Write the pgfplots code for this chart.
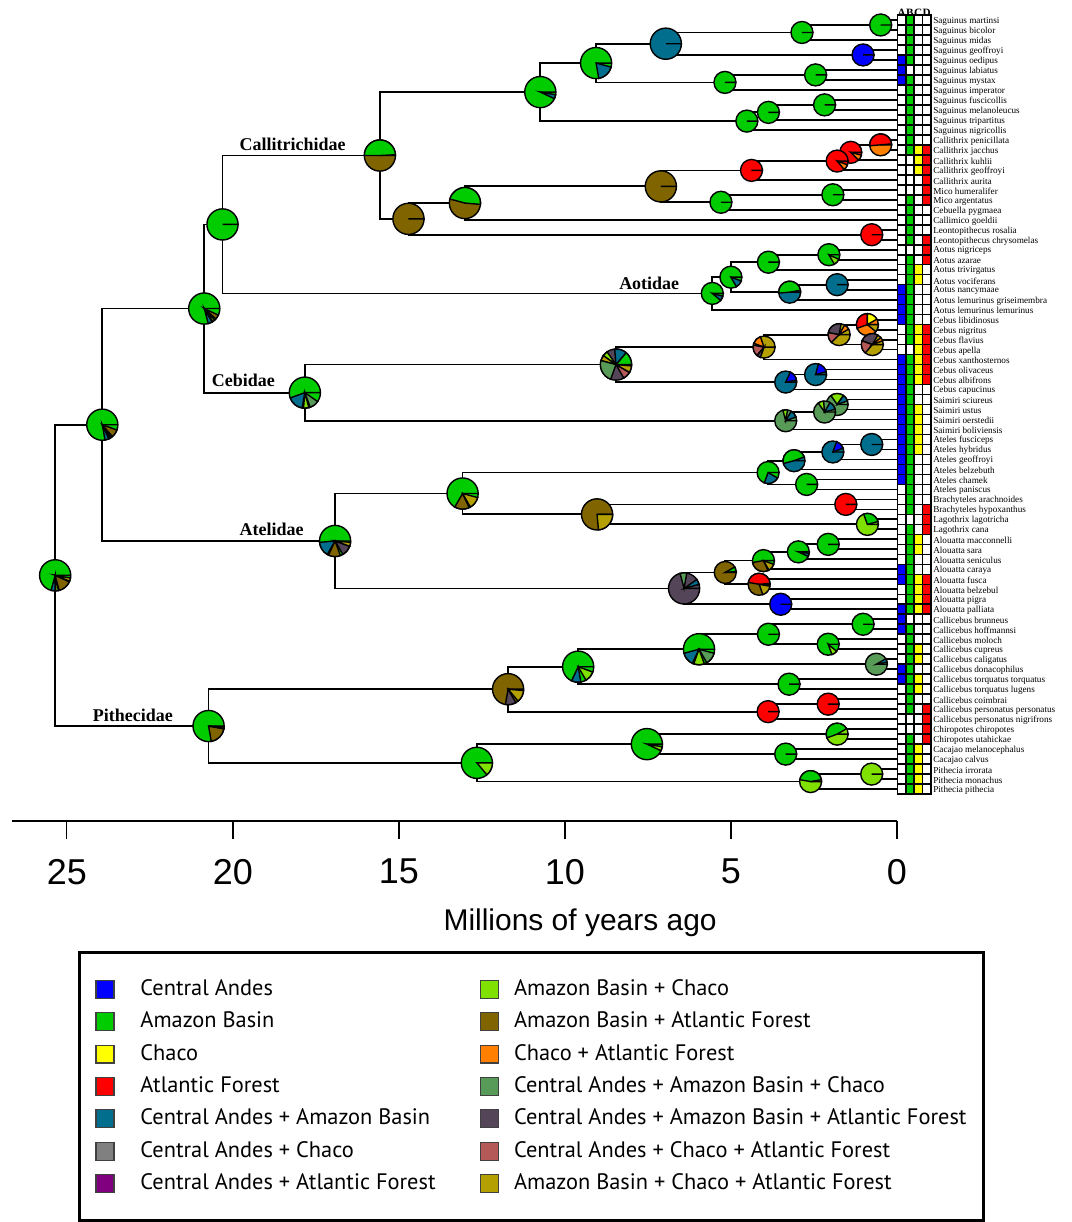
\documentclass[border=0pt]{standalone}
\usepackage{fontspec}
\setmainfont{Liberation Serif}
\newfontfamily\arialf{Liberation Sans}
\newfontfamily\ptsans{PT Sans}
\usepackage{pgfplots}
\usepackage{pgfplotstable}
\pgfplotsset{compat=1.18}

\definecolor{cA}{RGB}{0,0,255}
\definecolor{cB}{RGB}{0,204,0}
\definecolor{cC}{RGB}{255,255,0}
\definecolor{cD}{RGB}{255,0,0}
\definecolor{cAB}{RGB}{0,110,140}
\definecolor{cAC}{RGB}{128,128,128}
\definecolor{cAD}{RGB}{128,0,128}
\definecolor{cBC}{RGB}{128,224,0}
\definecolor{cBD}{RGB}{128,100,0}
\definecolor{cCD}{RGB}{255,128,0}
\definecolor{cABC}{RGB}{88,155,88}
\definecolor{cABD}{RGB}{84,70,88}
\definecolor{cACD}{RGB}{180,88,88}
\definecolor{cBCD}{RGB}{180,160,0}

\def\wa{0}\def\wb{360}\def\wr{5}
\pgfdeclareplotmark{wedge}{%
  \pgfpathmoveto{\pgfpointorigin}%
  \pgfpathlineto{\pgfpointpolar{\wa}{\wr pt}}%
  \pgfpatharc{\wa}{\wb}{\wr pt}%
  \pgfpathclose
  \pgfusepathqfillstroke}
\pgfdeclareplotmark{cell}{%
  \pgfpathrectanglecorners{\pgfpoint{-2.075pt}{-2.5pt}}{\pgfpoint{2.075pt}{2.5pt}}%
  \pgfusepathqfillstroke}

\pgfplotsset{
  pieclasses/.style={scatter/classes={
    A={fill=cA}, B={fill=cB}, C={fill=cC}, D={fill=cD},
    AB={fill=cAB}, AC={fill=cAC}, AD={fill=cAD}, BC={fill=cBC}, BD={fill=cBD}, CD={fill=cCD},
    ABC={fill=cABC}, ABD={fill=cABD}, ACD={fill=cACD}, BCD={fill=cBCD}}},
  lsq/.style={legend image code/.code={\filldraw[fill=#1, draw=black!75, line width=0.6pt] (0pt,-4.5pt) rectangle (9pt,4.5pt); \path (17pt,0pt);}},
  rsq/.style={legend image code/.code={\filldraw[fill=#1, draw=black!75, line width=0.6pt] (0pt,-4.5pt) rectangle (9pt,4.5pt); \path (11.5pt,0pt);}},
  cellplot/.style={forget plot, scatter, only marks, mark=cell, scatter src=explicit symbolic,
    mark options={draw=black, line width=0.8pt},
    scatter/classes={0={fill=white},1={fill=#1}}},
}

\pgfplotstableread[col sep=comma]{
i,name,A,B,C,D
1,Saguinus martinsi,0,1,0,0
2,Saguinus bicolor,0,1,0,0
3,Saguinus midas,0,1,0,0
4,Saguinus geoffroyi,0,1,0,0
5,Saguinus oedipus,1,1,0,0
6,Saguinus labiatus,1,0,0,0
7,Saguinus mystax,1,1,0,0
8,Saguinus imperator,0,1,0,0
9,Saguinus fuscicollis,0,1,0,0
10,Saguinus melanoleucus,0,1,0,0
11,Saguinus tripartitus,0,1,0,0
12,Saguinus nigricollis,0,1,0,0
13,Callithrix penicillata,0,1,0,0
14,Callithrix jacchus,0,1,1,1
15,Callithrix kuhlii,0,0,1,1
16,Callithrix geoffroyi,0,0,1,1
17,Callithrix aurita,0,0,0,1
18,Mico humeralifer,0,0,0,1
19,Mico argentatus,0,1,0,1
20,Cebuella pygmaea,0,1,0,0
21,Callimico goeldii,0,1,0,0
22,Leontopithecus rosalia,0,1,0,0
23,Leontopithecus chrysomelas,0,1,0,1
24,Aotus nigriceps,0,0,0,1
25,Aotus azarae,0,1,0,1
26,Aotus trivirgatus,0,1,1,0
27,Aotus vociferans,0,1,1,0
28,Aotus nancymaae,1,1,0,0
29,Aotus lemurinus griseimembra,1,1,0,0
30,Aotus lemurinus lemurinus,1,1,0,0
31,Cebus libidinosus,1,1,0,0
32,Cebus nigritus,0,1,1,1
33,Cebus flavius,0,1,1,1
34,Cebus apella,0,0,1,1
35,Cebus xanthosternos,1,1,1,1
36,Cebus olivaceus,1,1,1,1
37,Cebus albifrons,1,1,1,1
38,Cebus capucinus,1,1,0,0
39,Saimiri sciureus,1,1,0,0
40,Saimiri ustus,1,1,1,0
41,Saimiri oerstedii,1,1,1,0
42,Saimiri boliviensis,1,1,1,0
43,Ateles fusciceps,1,1,1,0
44,Ateles hybridus,1,1,1,0
45,Ateles geoffroyi,1,1,0,0
46,Ateles belzebuth,1,1,0,0
47,Ateles chamek,1,1,0,0
48,Ateles paniscus,0,1,0,0
49,Brachyteles arachnoides,0,1,0,0
50,Brachyteles hypoxanthus,0,1,0,1
51,Lagothrix lagotricha,0,0,0,1
52,Lagothrix cana,0,1,0,1
53,Alouatta macconnelli,0,1,1,0
54,Alouatta sara,0,1,1,0
55,Alouatta seniculus,0,1,0,0
56,Alouatta caraya,1,1,0,0
57,Alouatta fusca,1,1,1,1
58,Alouatta belzebul,0,1,1,1
59,Alouatta pigra,0,1,1,1
60,Alouatta palliata,1,1,1,1
61,Callicebus brunneus,1,0,0,0
62,Callicebus hoffmannsi,1,1,0,0
63,Callicebus moloch,0,1,0,0
64,Callicebus cupreus,0,1,1,0
65,Callicebus caligatus,0,1,1,0
66,Callicebus donacophilus,1,1,0,0
67,Callicebus torquatus torquatus,1,1,1,0
68,Callicebus torquatus lugens,0,1,1,0
69,Callicebus coimbrai,0,1,0,0
70,Callicebus personatus personatus,0,1,0,1
71,Callicebus personatus nigrifrons,0,0,0,1
72,Chiropotes chiropotes,0,0,0,1
73,Chiropotes utahickae,0,1,0,1
74,Cacajao melanocephalus,0,1,1,0
75,Cacajao calvus,0,1,1,0
76,Pithecia irrorata,0,1,1,0
77,Pithecia monachus,0,1,1,0
78,Pithecia pithecia,0,1,1,0
}\tips

\pgfplotstableread{
x y a b r c
0.49 1.5 0 360 5.5 B
2.86 2.25 0 360 5.5 B
1.02 4.5 0 360 5.5 A
6.96 3.375 0 360 7.8 AB
2.45 6.5 0 360 5.5 B
5.18 7.25 0 360 5.5 B
9.06 5.3125 0 360 7.8 B
9.06 5.3125 -80 -15 7.8 AB
2.18 9.5 0 360 5.5 B
3.87 10.25 0 360 5.5 B
4.52 11.125 0 360 5.5 B
10.74 8.22 0 360 7.8 B
10.74 8.22 -25 -10 7.8 AB
0.49 13.5 0 360 5.5 CD
0.49 13.5 5 185 5.5 D
1.39 14.25 0 360 5.5 D
1.39 14.25 -45 -15 5.5 CD
1.80 15.125 0 360 5.5 D
1.80 15.125 -50 -20 5.5 CD
4.38 16.06 0 360 5.5 D
1.93 18.5 0 360 5.5 B
5.30 19.25 0 360 5.5 B
7.11 17.66 0 360 7.8 BD
13.01 19.33 0 360 7.8 BD
13.01 19.33 -5 165 7.8 B
0.76 22.5 0 360 5.5 D
14.71 20.91 0 360 7.8 BD
15.57 14.57 0 360 7.8 BD
15.57 14.57 3 180 7.8 B
2.05 24.5 0 360 5.5 B
2.05 24.5 -60 -25 5.5 BC
3.87 25.25 0 360 5.5 B
1.80 27.5 0 360 5.5 AB
3.23 28.25 0 360 5.5 AB
3.23 28.25 10 185 5.5 B
5.00 26.75 0 360 5.5 B
5.00 26.75 -60 -20 5.5 AB
5.56 28.375 0 360 5.5 B
5.56 28.375 -40 -15 5.5 AB
20.31 21.47 0 360 7.8 B
0.89 31.5 0 360 5.5 CD
0.89 31.5 90 200 5.5 D
0.89 31.5 30 90 5.5 C
0.89 31.5 -40 0 5.5 BCD
0.74 33.5 0 360 5.5 BCD
0.74 33.5 60 160 5.5 ABD
0.74 33.5 160 230 5.5 ACD
0.74 33.5 20 40 5.5 CD
1.74 32.5 0 360 5.5 BCD
1.74 32.5 80 170 5.5 ABD
1.74 32.5 170 225 5.5 ACD
1.74 32.5 30 60 5.5 CD
4.00 33.75 0 360 5.5 BCD
4.00 33.75 110 160 5.5 CD
4.00 33.75 170 230 5.5 ACD
4.00 33.75 230 250 5.5 ABD
2.45 36.5 0 360 5.5 AB
2.45 36.5 15 75 5.5 A
3.35 37.25 0 360 5.5 AB
3.35 37.25 10 65 5.5 A
8.46 35.5 0 360 7.8 ABD
8.46 35.5 0 50 7.8 B
8.46 35.5 50 95 7.8 AB
8.46 35.5 125 145 7.8 BC
8.46 35.5 145 165 7.8 BCD
8.46 35.5 165 250 7.8 ABC
8.46 35.5 300 330 7.8 ACD
8.46 35.5 330 355 7.8 BCD
1.80 39.5 0 360 5.5 ABC
1.80 39.5 55 125 5.5 BC
1.80 39.5 20 55 5.5 AB
2.18 40.25 0 360 5.5 ABC
2.18 40.25 95 125 5.5 BC
2.18 40.25 15 60 5.5 AB
3.35 41.125 0 360 5.5 ABC
3.35 41.125 80 105 5.5 BC
3.35 41.125 20 60 5.5 AB
17.83 38.31 0 360 7.8 B
17.83 38.31 200 260 7.8 AB
17.83 38.31 265 285 7.8 BC
17.83 38.31 290 325 7.8 ABC
20.86 29.89 0 360 7.8 B
20.86 29.89 -75 -60 7.8 AB
20.86 29.89 -57 -48 7.8 BC
20.86 29.89 -42 -25 7.8 BD
23.93 41.52 0 360 7.8 B
23.93 41.52 -80 -65 7.8 AB
23.93 41.52 -62 -55 7.8 BC
23.93 41.52 -50 -20 7.8 BD
0.76 43.5 0 360 5.5 AB
1.93 44.25 0 360 5.5 AB
1.93 44.25 20 70 5.5 A
3.10 45.125 0 360 5.5 AB
3.10 45.125 20 195 5.5 B
3.88 46.31 0 360 5.5 B
3.88 46.31 250 330 5.5 AB
2.72 47.5 0 360 5.5 B
1.54 49.5 0 360 5.5 D
0.89 51.5 0 360 5.5 BC
0.89 51.5 15 110 5.5 B
9.03 50.5 0 360 7.8 BD
9.03 50.5 275 360 7.8 BCD
13.08 48.41 0 360 7.8 B
13.08 48.41 240 295 7.8 BD
13.08 48.41 300 345 7.8 BCD
2.07 53.5 0 360 5.5 B
2.97 54.25 0 360 5.5 B
2.97 54.25 -25 -8 5.5 AB
4.02 55.125 0 360 5.5 B
4.02 55.125 190 295 5.5 BD
4.02 55.125 300 340 5.5 BCD
4.15 57.5 0 360 5.5 BD
4.15 57.5 5 170 5.5 D
4.15 57.5 290 350 5.5 BCD
5.17 56.31 0 360 5.5 BD
5.17 56.31 5 30 5.5 B
3.50 59.5 0 360 5.5 A
6.41 57.91 0 360 7.8 ABD
6.41 57.91 80 105 7.8 ABC
6.41 57.91 15 35 7.8 AB
16.92 53.16 0 360 7.8 B
16.92 53.16 185 240 7.8 AB
16.92 53.16 245 290 7.8 BD
16.92 53.16 300 340 7.8 ABD
16.92 53.16 340 355 7.8 BCD
1.02 61.5 0 360 5.5 B
2.07 63.5 0 360 5.5 B
2.07 63.5 -70 -40 5.5 BC
3.87 62.5 0 360 5.5 B
0.62 65.5 0 360 5.5 ABC
0.62 65.5 10 30 5.5 AB
5.96 64 0 360 7.8 B
5.96 64 195 245 7.8 AB
5.96 64 250 290 7.8 BC
5.96 64 300 345 7.8 ABC
3.25 67.5 0 360 5.5 B
9.60 65.75 0 360 7.8 B
9.60 65.75 245 280 7.8 AB
9.60 65.75 300 340 7.8 BC
2.07 69.5 0 360 5.5 D
3.88 70.25 0 360 5.5 D
11.71 68 0 360 7.8 BD
11.71 68 260 300 7.8 ABD
11.71 68 310 355 7.8 BCD
1.80 72.5 0 360 5.5 BC
1.80 72.5 30 200 5.5 B
3.35 74.5 0 360 5.5 B
7.53 73.5 0 360 7.8 B
7.53 73.5 -25 -10 7.8 BC
0.76 76.5 0 360 5.5 BC
2.60 77.25 0 360 5.5 BC
2.60 77.25 10 170 5.5 B
12.65 75.375 0 360 7.8 B
12.65 75.375 -50 0 7.8 BC
20.73 71.69 0 360 7.8 B
20.73 71.69 -80 -10 7.8 BD
20.73 71.69 -10 -3 7.8 BCD
25.35 56.6 0 360 7.8 B
25.35 56.6 -105 -90 7.8 AB
25.35 56.6 -88 -78 7.8 BC
25.35 56.6 -75 -25 7.8 BD
25.35 56.6 -22 -10 7.8 BCD
}\pies

\begin{document}
\begin{tikzpicture}
\begin{axis}[
  scale only axis, width=443pt, height=411pt,
  xmin=0, xmax=26.65, x dir=reverse,
  ymin=-81.2, ymax=1,
  axis x line*=bottom, axis y line=none,
  xtick={0,5,10,15,20,25},
  tick align=outside, major tick length=9pt,
  x axis line style={line width=1.1pt, black},
  xtick style={line width=0.7pt, black},
  xticklabel style={font=\arialf\fontsize{18}{18}\selectfont, yshift=-6.5pt},
  /pgf/number format/assume math mode=true,
  xlabel={Millions of years ago},
  xlabel style={font=\arialf\fontsize{15}{15}\selectfont, at={(axis description cs:0.642,-0.107)}, anchor=north, inner sep=0pt},
  clip=false,
  legend columns=2, legend cell align=left,
  legend style={at={(axis description cs:0.0745,-0.1582)}, anchor=north west,
    draw=black, line width=1.5pt, inner xsep=8pt, inner ysep=12.5pt,
    font=\ptsans\fontsize{11.2}{11.2}\selectfont,
    nodes={inner sep=0.5pt, text height=8.5pt, text depth=2.5pt},
    row sep=4.2pt,
    /tikz/every odd column/.append style={column sep=4pt},
    /tikz/every even column/.append style={column sep=0pt}},
]
% tree branches
\addplot[forget plot, black, line width=0.9pt, unbounded coords=jump] coordinates {
(0,-1)(0.49,-1)(0.49,-2)(0,-2) (nan,nan)
(0.49,-1.5)(2.86,-1.5)(2.86,-3)(0,-3) (nan,nan)
(0,-4)(1.02,-4)(1.02,-5)(0,-5) (nan,nan)
(2.86,-2.25)(6.96,-2.25)(6.96,-4.5)(1.02,-4.5) (nan,nan)
(0,-6)(2.45,-6)(2.45,-7)(0,-7) (nan,nan)
(2.45,-6.5)(5.18,-6.5)(5.18,-8)(0,-8) (nan,nan)
(6.96,-3.375)(9.06,-3.375)(9.06,-7.25)(5.18,-7.25) (nan,nan)
(0,-9)(2.18,-9)(2.18,-10)(0,-10) (nan,nan)
(2.18,-9.5)(3.87,-9.5)(3.87,-11)(0,-11) (nan,nan)
(3.87,-10.25)(4.52,-10.25)(4.52,-12)(0,-12) (nan,nan)
(9.06,-5.3125)(10.74,-5.3125)(10.74,-11.125)(4.52,-11.125) (nan,nan)
(0,-13)(0.49,-13)(0.49,-14)(0,-14) (nan,nan)
(0.49,-13.5)(1.39,-13.5)(1.39,-15)(0,-15) (nan,nan)
(1.39,-14.25)(1.80,-14.25)(1.80,-16)(0,-16) (nan,nan)
(1.80,-15.125)(4.38,-15.125)(4.38,-17)(0,-17) (nan,nan)
(0,-18)(1.93,-18)(1.93,-19)(0,-19) (nan,nan)
(1.93,-18.5)(5.30,-18.5)(5.30,-20)(0,-20) (nan,nan)
(4.38,-16.06)(7.11,-16.06)(7.11,-19.25)(5.30,-19.25) (nan,nan)
(7.11,-17.66)(13.01,-17.66)(13.01,-21)(0,-21) (nan,nan)
(0,-22)(0.76,-22)(0.76,-23)(0,-23) (nan,nan)
(13.01,-19.33)(14.71,-19.33)(14.71,-22.5)(0.76,-22.5) (nan,nan)
(10.74,-8.22)(15.57,-8.22)(15.57,-20.91)(14.71,-20.91) (nan,nan)
(0,-24)(2.05,-24)(2.05,-25)(0,-25) (nan,nan)
(2.05,-24.5)(3.87,-24.5)(3.87,-26)(0,-26) (nan,nan)
(0,-27)(1.80,-27)(1.80,-28)(0,-28) (nan,nan)
(1.80,-27.5)(3.23,-27.5)(3.23,-29)(0,-29) (nan,nan)
(3.87,-25.25)(5.00,-25.25)(5.00,-28.25)(3.23,-28.25) (nan,nan)
(5.00,-26.75)(5.56,-26.75)(5.56,-30)(0,-30) (nan,nan)
(15.57,-14.57)(20.31,-14.57)(20.31,-28.375)(5.56,-28.375) (nan,nan)
(0,-31)(0.89,-31)(0.89,-32)(0,-32) (nan,nan)
(0,-33)(0.74,-33)(0.74,-34)(0,-34) (nan,nan)
(0.89,-31.5)(1.74,-31.5)(1.74,-33.5)(0.74,-33.5) (nan,nan)
(1.74,-32.5)(4.00,-32.5)(4.00,-35)(0,-35) (nan,nan)
(0,-36)(2.45,-36)(2.45,-37)(0,-37) (nan,nan)
(2.45,-36.5)(3.35,-36.5)(3.35,-38)(0,-38) (nan,nan)
(4.00,-33.75)(8.46,-33.75)(8.46,-37.25)(3.35,-37.25) (nan,nan)
(0,-39)(1.80,-39)(1.80,-40)(0,-40) (nan,nan)
(1.80,-39.5)(2.18,-39.5)(2.18,-41)(0,-41) (nan,nan)
(2.18,-40.25)(3.35,-40.25)(3.35,-42)(0,-42) (nan,nan)
(8.46,-35.5)(17.83,-35.5)(17.83,-41.125)(3.35,-41.125) (nan,nan)
(20.31,-21.47)(20.86,-21.47)(20.86,-38.31)(17.83,-38.31) (nan,nan)
(0,-43)(0.76,-43)(0.76,-44)(0,-44) (nan,nan)
(0.76,-43.5)(1.93,-43.5)(1.93,-45)(0,-45) (nan,nan)
(1.93,-44.25)(3.10,-44.25)(3.10,-46)(0,-46) (nan,nan)
(0,-47)(2.72,-47)(2.72,-48)(0,-48) (nan,nan)
(3.10,-45.125)(3.88,-45.125)(3.88,-47.5)(2.72,-47.5) (nan,nan)
(0,-49)(1.54,-49)(1.54,-50)(0,-50) (nan,nan)
(0,-51)(0.89,-51)(0.89,-52)(0,-52) (nan,nan)
(1.54,-49.5)(9.03,-49.5)(9.03,-51.5)(0.89,-51.5) (nan,nan)
(3.88,-46.31)(13.08,-46.31)(13.08,-50.5)(9.03,-50.5) (nan,nan)
(0,-53)(2.07,-53)(2.07,-54)(0,-54) (nan,nan)
(2.07,-53.5)(2.97,-53.5)(2.97,-55)(0,-55) (nan,nan)
(2.97,-54.25)(4.02,-54.25)(4.02,-56)(0,-56) (nan,nan)
(0,-57)(4.15,-57)(4.15,-58)(0,-58) (nan,nan)
(4.02,-55.125)(5.17,-55.125)(5.17,-57.5)(4.15,-57.5) (nan,nan)
(0,-59)(3.50,-59)(3.50,-60)(0,-60) (nan,nan)
(5.17,-56.31)(6.41,-56.31)(6.41,-59.5)(3.50,-59.5) (nan,nan)
(13.08,-48.41)(16.92,-48.41)(16.92,-57.91)(6.41,-57.91) (nan,nan)
(20.86,-29.89)(23.93,-29.89)(23.93,-53.16)(16.92,-53.16) (nan,nan)
(0,-61)(1.02,-61)(1.02,-62)(0,-62) (nan,nan)
(0,-63)(2.07,-63)(2.07,-64)(0,-64) (nan,nan)
(1.02,-61.5)(3.87,-61.5)(3.87,-63.5)(2.07,-63.5) (nan,nan)
(0,-65)(0.62,-65)(0.62,-66)(0,-66) (nan,nan)
(3.87,-62.5)(5.96,-62.5)(5.96,-65.5)(0.62,-65.5) (nan,nan)
(0,-67)(3.25,-67)(3.25,-68)(0,-68) (nan,nan)
(5.96,-64)(9.60,-64)(9.60,-67.5)(3.25,-67.5) (nan,nan)
(0,-69)(2.07,-69)(2.07,-70)(0,-70) (nan,nan)
(2.07,-69.5)(3.88,-69.5)(3.88,-71)(0,-71) (nan,nan)
(9.60,-65.75)(11.71,-65.75)(11.71,-70.25)(3.88,-70.25) (nan,nan)
(0,-72)(1.80,-72)(1.80,-73)(0,-73) (nan,nan)
(0,-74)(3.35,-74)(3.35,-75)(0,-75) (nan,nan)
(1.80,-72.5)(7.53,-72.5)(7.53,-74.5)(3.35,-74.5) (nan,nan)
(0,-76)(0.76,-76)(0.76,-77)(0,-77) (nan,nan)
(0.76,-76.5)(2.60,-76.5)(2.60,-78)(0,-78) (nan,nan)
(7.53,-73.5)(12.65,-73.5)(12.65,-77.25)(2.60,-77.25) (nan,nan)
(11.71,-68)(20.73,-68)(20.73,-75.375)(12.65,-75.375) (nan,nan)
(23.93,-41.52)(25.35,-41.52)(25.35,-71.69)(20.73,-71.69)
};
% ancestral range pies
\addplot[forget plot, scatter, only marks, mark=wedge, scatter src=explicit symbolic,
  mark options={draw=black, line width=0.7pt}, pieclasses,
  visualization depends on={\thisrow{a}\as\wa},
  visualization depends on={\thisrow{b}\as\wb},
  visualization depends on={\thisrow{r}\as\wr}]
  table[x=x, y expr=-\thisrow{y}, meta=c]{\pies};
% presence matrix
\addplot[cellplot=cA] table[x expr=-0.141, y expr=-\thisrow{i}, meta=A]{\tips};
\addplot[cellplot=cB] table[x expr=-0.391, y expr=-\thisrow{i}, meta=B]{\tips};
\addplot[cellplot=cC] table[x expr=-0.641, y expr=-\thisrow{i}, meta=C]{\tips};
\addplot[cellplot=cD] table[x expr=-0.893, y expr=-\thisrow{i}, meta=D]{\tips};
% tip labels
\addplot[forget plot, only marks, mark=*, mark size=0pt, mark options={draw=none, fill=none},
  nodes near coords, point meta=explicit symbolic,
  nodes near coords style={anchor=west, inner sep=0pt, yshift=-0.6pt, text=black, font=\fontsize{4.6}{4.6}\selectfont}]
  table[x expr=-1.083, y expr=-\thisrow{i}, meta=name]{\tips};
\addplot[forget plot, only marks, mark=*, mark size=0pt, mark options={draw=none, fill=none},
  nodes near coords, point meta=explicit symbolic,
  nodes near coords style={anchor=center, inner sep=0pt, text=black, font=\bfseries\fontsize{5.6}{5.6}\selectfont}]
  coordinates {(-0.141,-0.3) [A] (-0.391,-0.3) [B] (-0.641,-0.3) [C] (-0.893,-0.3) [D]};
% family labels
\node[font=\bfseries\fontsize{9}{9}\selectfont] at (axis cs:18.2,-13.5) {Callitrichidae};
\node[font=\bfseries\fontsize{9}{9}\selectfont] at (axis cs:7.46,-27.4) {Aotidae};
\node[font=\bfseries\fontsize{9}{9}\selectfont] at (axis cs:19.68,-37.1) {Cebidae};
\node[font=\bfseries\fontsize{9}{9}\selectfont] at (axis cs:18.83,-52) {Atelidae};
\node[font=\bfseries\fontsize{9}{9}\selectfont] at (axis cs:23.01,-70.6) {Pithecidae};
% legend
\addlegendimage{lsq=cA}\addlegendentry{\makebox[169.5pt][l]{Central Andes}}
\addlegendimage{rsq=cBC}\addlegendentry{Amazon Basin + Chaco}
\addlegendimage{lsq=cB}\addlegendentry{\makebox[169.5pt][l]{Amazon Basin}}
\addlegendimage{rsq=cBD}\addlegendentry{Amazon Basin + Atlantic Forest}
\addlegendimage{lsq=cC}\addlegendentry{\makebox[169.5pt][l]{Chaco}}
\addlegendimage{rsq=cCD}\addlegendentry{Chaco + Atlantic Forest}
\addlegendimage{lsq=cD}\addlegendentry{\makebox[169.5pt][l]{Atlantic Forest}}
\addlegendimage{rsq=cABC}\addlegendentry{Central Andes + Amazon Basin + Chaco}
\addlegendimage{lsq=cAB}\addlegendentry{\makebox[169.5pt][l]{Central Andes + Amazon Basin}}
\addlegendimage{rsq=cABD}\addlegendentry{Central Andes + Amazon Basin + Atlantic Forest}
\addlegendimage{lsq=cAC}\addlegendentry{\makebox[169.5pt][l]{Central Andes + Chaco}}
\addlegendimage{rsq=cACD}\addlegendentry{Central Andes + Chaco + Atlantic Forest}
\addlegendimage{lsq=cAD}\addlegendentry{\makebox[169.5pt][l]{Central Andes + Atlantic Forest}}
\addlegendimage{rsq=cBCD}\addlegendentry{Amazon Basin + Chaco + Atlantic Forest}
% page extent
\path[draw=none] (axis description cs:-0.013544,-0.48662) rectangle (axis description cs:1.19752,1);
\end{axis}
\end{tikzpicture}
\end{document}
